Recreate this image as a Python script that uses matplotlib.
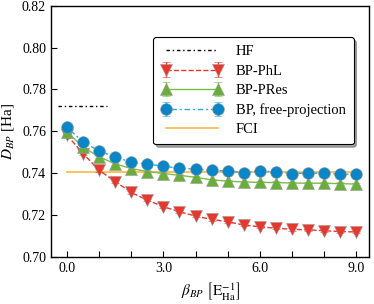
import numpy as np
import matplotlib
matplotlib.use("Agg")
import matplotlib.pyplot as plt

# 데이터
beta = np.arange(0, 9.01, 0.5)

d_phl = [0.7582, 0.7494, 0.7414, 0.7360, 0.7308, 0.7271, 0.7240, 0.7216,
         0.7195, 0.7179, 0.7168, 0.7152, 0.7144, 0.7137, 0.7132, 0.7129,
         0.7125, 0.7121, 0.7119]
d_pres = [0.7597, 0.7525, 0.7478, 0.7445, 0.7422, 0.7408, 0.7398, 0.7390,
          0.7380, 0.7368, 0.7362, 0.7358, 0.7356, 0.7355, 0.7353, 0.7352,
          0.7352, 0.7350, 0.7348]
d_free = [0.7620, 0.7549, 0.7506, 0.7478, 0.7452, 0.7444, 0.7433, 0.7424,
          0.7419, 0.7414, 0.7410, 0.7403, 0.7410, 0.7406, 0.7398, 0.7400,
          0.7400, 0.7395, 0.7395]
err = 0.0006

hf_value = 0.7722
hf_range = [-0.27, 1.25]
fci_value = 0.7405
fci_range = [0.0, 9.0]

plt.rcParams["font.family"] = ["Liberation Serif", "DejaVu Serif"]
plt.rcParams["mathtext.fontset"] = "stix"
plt.rcParams["font.size"] = 10

fig = plt.figure(figsize=(3.74, 3.04), dpi=100)
ax = fig.add_axes([0.136, 0.155, 0.851, 0.826])

h_hf, = ax.plot(hf_range, [hf_value, hf_value], color="black",
                linestyle=(0, (2.5, 2, 1, 2)), linewidth=1.0, label="HF")
h_phl = ax.errorbar(beta, d_phl, yerr=err, color="#E8372C", ecolor="#E8372C",
                    linestyle="--", linewidth=1.0, marker="v", markersize=8.5,
                    markeredgecolor="#999999", markeredgewidth=0.4, capsize=3,
                    label="BP-PhL")
h_pres = ax.errorbar(beta, d_pres, yerr=err, color="#78BE45", ecolor="#78BE45",
                     linestyle="-", linewidth=1.0, marker="^", markersize=8.5,
                     markerfacecolor="#6AAE3A", markeredgecolor="#999999",
                     markeredgewidth=0.4, capsize=3, label="BP-PRes")
h_free = ax.errorbar(beta, d_free, yerr=err, color="#2AA8E0", ecolor="#2AA8E0",
                     linestyle=(0, (1.5, 2, 4, 2)), linewidth=1.0, marker="o",
                     markersize=8.5, markerfacecolor="#0A86C6",
                     markeredgecolor="#999999", markeredgewidth=0.4, capsize=3,
                     label="BP, free-projection")
h_fci, = ax.plot(fci_range, [fci_value, fci_value], color="#F9B843",
                 linewidth=1.2, label="FCI", zorder=1)

ax.set_xlim(-0.5, 9.4)
ax.set_ylim(0.70, 0.82)
ax.set_xticks(np.arange(0, 10, 1))
ax.set_xticklabels(["0.0", "", "", "3.0", "", "", "6.0", "", "", "9.0"])
ax.set_yticks(np.arange(0.70, 0.821, 0.02))
ax.set_yticklabels(["0.70", "0.72", "0.74", "0.76", "0.78", "0.80", "0.82"])
ax.tick_params(direction="in", top=False, right=False, length=4, width=0.8)
for s in ax.spines.values():
    s.set_linewidth(1.0)

ax.set_xlabel(r"$\beta_{BP}\ \left[\mathrm{E}_{\mathrm{Ha}}^{-1}\right]$", fontsize=11)
ax.set_ylabel(r"$D_{BP}$ [Ha]", fontsize=11, labelpad=4)

leg = ax.legend([h_hf, h_phl, h_pres, h_free, h_fci],
                ["HF", "BP-PhL", "BP-PRes", "BP, free-projection", "FCI"],
                loc="upper right", bbox_to_anchor=(0.965, 0.892), numpoints=2,
                fontsize=10.5, frameon=True, fancybox=True, shadow=True,
                handlelength=4.2, borderpad=0.55, labelspacing=0.42,
                handletextpad=0.9, borderaxespad=0.3)
leg.get_frame().set_edgecolor("black")
leg.get_frame().set_linewidth(0.8)

fig.savefig("out.png", dpi=100)
